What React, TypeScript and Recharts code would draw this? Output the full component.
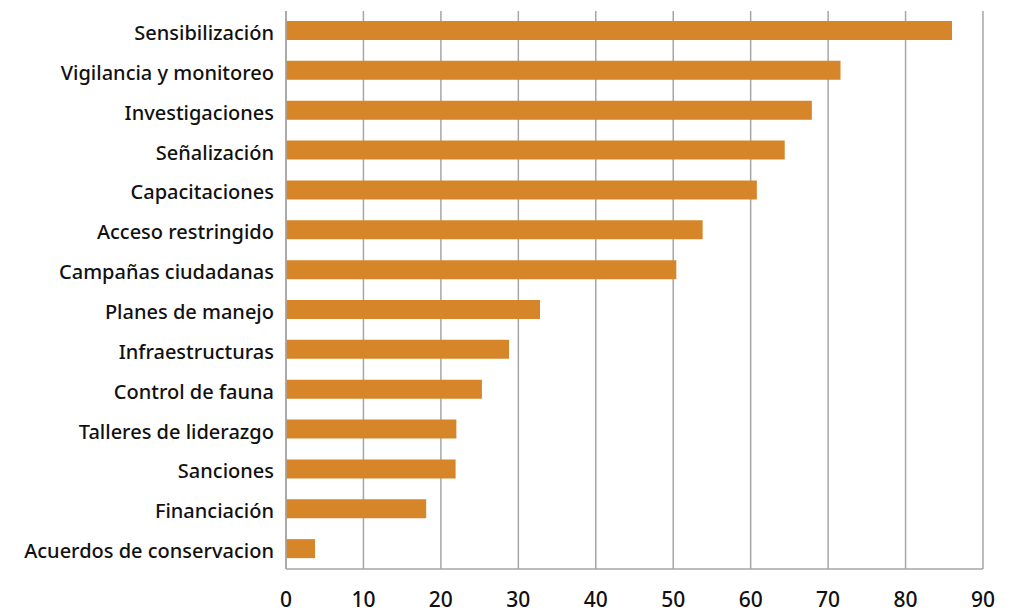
import { BarChart, Bar, XAxis, YAxis, CartesianGrid } from "recharts";

const categories = [
  "Sensibilización",
  "Vigilancia y monitoreo",
  "Investigaciones",
  "Señalización",
  "Capacitaciones",
  "Acceso restringido",
  "Campañas ciudadanas",
  "Planes de manejo",
  "Infraestructuras",
  "Control de fauna",
  "Talleres de liderazgo",
  "Sanciones",
  "Financiación",
  "Acuerdos de conservacion",
];

const values = [86, 71.6, 67.9, 64.4, 60.8, 53.8, 50.4, 32.8, 28.8, 25.3, 22, 21.9, 18.1, 3.75];

const xTicks = [0, 10, 20, 30, 40, 50, 60, 70, 80, 90];

const data = categories.map((name, i) => ({ name, value: values[i] }));

export default function App() {
  return (
    <div style={{ position: "absolute", left: 0, top: 0, background: "#fff" }}>
      <BarChart
        width={1010}
        height={612}
        data={data}
        layout="vertical"
        margin={{ top: 11, right: 27, bottom: 0, left: 0 }}
      >
        <CartesianGrid horizontal={false} stroke="#a6a6a6" strokeWidth={1.5} />
        <XAxis
          type="number"
          domain={[0, 90]}
          ticks={xTicks}
          interval={0}
          tickLine={false}
          axisLine={{ stroke: "#a6a6a6", strokeWidth: 1.5 }}
          tick={{ fill: "#111", fontSize: 21, fontWeight: 500, fontFamily: "Noto Sans" }}
          tickMargin={17}
          height={43}
        />
        <YAxis
          type="category"
          dataKey="name"
          width={286}
          interval={0}
          tickLine={false}
          axisLine={{ stroke: "#a6a6a6", strokeWidth: 1.5 }}
          tick={{ fill: "#111", fontSize: 20, fontWeight: 500, fontFamily: "Noto Sans", dy: 2 }}
          tickMargin={6}
        />
        <Bar dataKey="value" fill="#d68628" barSize={19} isAnimationActive={false} />
      </BarChart>
    </div>
  );
}
